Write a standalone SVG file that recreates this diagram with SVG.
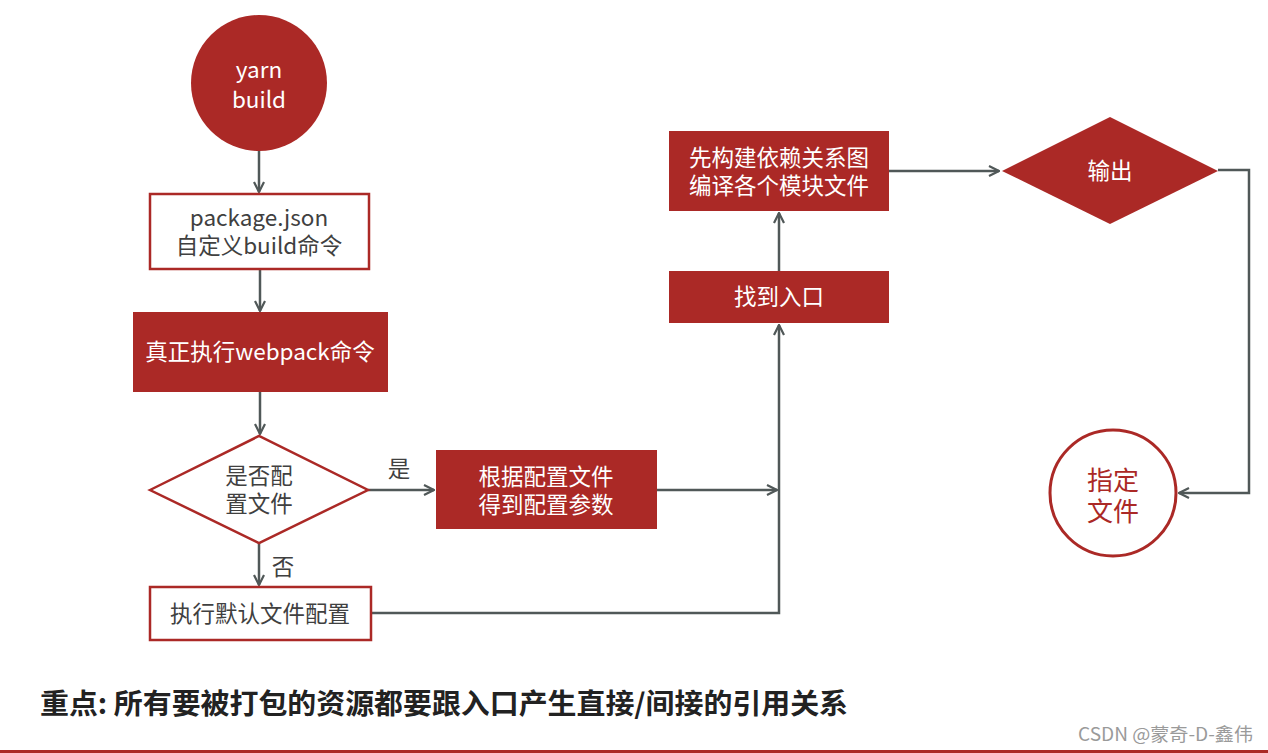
<svg xmlns="http://www.w3.org/2000/svg" width="1268" height="753" viewBox="0 0 1268 753">
<style>
text{font-family:"Noto Sans CJK SC","Noto Sans",sans-serif;text-anchor:middle}
.fill{fill:#ab2926}
.outl{fill:#fff;stroke:#ab2926;stroke-width:2.5}
.wt{fill:#fff;font-size:22.5px}
.dt{fill:#404040;font-size:22.5px}
.con{fill:none;stroke:#505858;stroke-width:2.5}
</style>
<defs>
<marker id="arr" viewBox="0 0 12 12" refX="11" refY="6" markerWidth="12" markerHeight="12" markerUnits="userSpaceOnUse" orient="auto">
<path d="M1,1 L11,6 L1,11" fill="none" stroke="#505858" stroke-width="2.2"/>
</marker>
</defs>
<rect width="1268" height="753" fill="#fff"/>
<g id="connectors">
<path class="con" d="M259,150 V192" marker-end="url(#arr)"/>
<path class="con" d="M260,269 V311" marker-end="url(#arr)"/>
<path class="con" d="M260,392 V434" marker-end="url(#arr)"/>
<path class="con" d="M368,490 H434" marker-end="url(#arr)"/>
<path class="con" d="M259,543 V585" marker-end="url(#arr)"/>
<path class="con" d="M657,490 H777" marker-end="url(#arr)"/>
<path class="con" d="M371,613 H779 V325" marker-end="url(#arr)"/>
<path class="con" d="M779,271 V213" marker-end="url(#arr)"/>
<path class="con" d="M889,171 H999" marker-end="url(#arr)"/>
<path class="con" d="M1218,170 H1249 V493 H1179" marker-end="url(#arr)"/>
<text x="399" y="477" class="dt" font-size="21">是</text>
<text x="283" y="575" class="dt" font-size="21">否</text>
</g>
<g id="start">
<circle cx="259" cy="83" r="68" class="fill"/>
<text x="259" y="78" class="wt" font-size="30">yarn</text>
<text x="259" y="108" class="wt" font-size="30">build</text>
</g>
<g id="pkg">
<rect x="150" y="194" width="219" height="75" class="outl"/>
<text x="259" y="226" class="dt">package.json</text>
<text x="259" y="254" class="dt">自定义build命令</text>
</g>
<g id="webpack">
<rect x="133" y="312" width="255" height="80" class="fill"/>
<text x="260" y="360" class="wt">真正执行webpack命令</text>
</g>
<g id="decision">
<polygon points="150,490 259,436 368,490 259,543" class="outl"/>
<text x="259" y="484" class="dt">是否配</text>
<text x="259" y="512" class="dt">置文件</text>
</g>
<g id="config">
<rect x="436" y="450" width="221" height="79" class="fill"/>
<text x="546" y="485" class="wt">根据配置文件</text>
<text x="546" y="513" class="wt">得到配置参数</text>
</g>
<g id="default">
<rect x="150" y="587" width="221" height="53" class="outl"/>
<text x="260" y="622" class="dt">执行默认文件配置</text>
</g>
<g id="entry">
<rect x="669" y="271" width="220" height="52" class="fill"/>
<text x="779" y="305" class="wt">找到入口</text>
</g>
<g id="graph">
<rect x="669" y="131" width="220" height="80" class="fill"/>
<text x="779" y="166" class="wt">先构建依赖关系图</text>
<text x="779" y="194" class="wt">编译各个模块文件</text>
</g>
<g id="output">
<polygon points="1002,171 1110,117 1218,171 1110,224" class="fill"/>
<text x="1110" y="179" class="wt">输出</text>
</g>
<g id="target">
<circle cx="1113" cy="493" r="63" fill="#fff" stroke="#ab2926" stroke-width="3"/>
<text x="1113" y="490" fill="#ab2926" font-size="26">指定</text>
<text x="1113" y="521" fill="#ab2926" font-size="26">文件</text>
</g>
<text x="40" y="714" style="text-anchor:start;font-weight:bold" font-size="28" textLength="808" lengthAdjust="spacingAndGlyphs" fill="#222">重点: 所有要被打包的资源都要跟入口产生直接/间接的引用关系</text>
<text x="1078" y="741" style="text-anchor:start" font-size="18" textLength="175" lengthAdjust="spacingAndGlyphs" fill="#9a9a9a">CSDN @蒙奇-D-鑫伟</text>
<rect x="0" y="750" width="1268" height="3" fill="#ab2926"/>
</svg>
